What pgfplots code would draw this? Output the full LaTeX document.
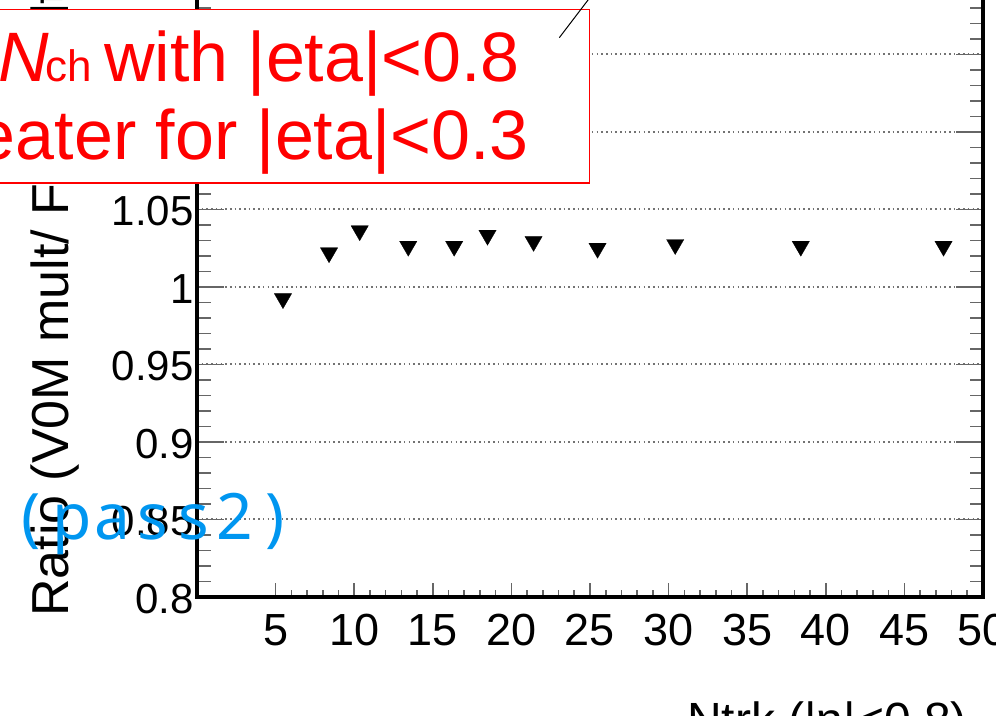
\documentclass[border=0pt]{standalone}
\usepackage{fontspec}
\setmainfont{Liberation Sans}
\newfontfamily\bluefont{Noto Sans}
\usepackage{pgfplots}
\pgfplotsset{compat=1.18}
\definecolor{rootblue}{RGB}{0,150,240}
\begin{document}
\begin{tikzpicture}
\path[use as bounding box] (0,0) rectangle (996bp,716bp);
\clip (0,0) rectangle (996bp,716bp);
% x ticks and labels (shorter tick length)
\begin{axis}[at={(197bp,119bp)}, anchor=south west, scale only axis,
  width=786bp, height=620bp, xmin=0, xmax=50, ymin=0.8, ymax=1.2,
  xtick={5,10,15,20,25,30,35,40,45,50}, minor x tick num=4,
  xticklabels={5,10,15,20,25,30,35,40,45,50},
  ytick=\empty, axis line style={draw=none},
  tick align=inside, major tick length=14bp, minor tick length=7bp,
  tick style={black!60, line width=1.6bp},
  xticklabel style={font=\fontsize{45bp}{50bp}\selectfont, anchor=base, yshift=-48bp}]
\addplot[draw=none] coordinates {(1,1)};
\end{axis}
% main axis
\begin{axis}[at={(197bp,119bp)}, anchor=south west, scale only axis,
  width=786bp, height=620bp, xmin=0, xmax=50, ymin=0.8, ymax=1.2,
  xtick=\empty,
  ytick={0.8,0.85,0.9,0.95,1,1.05,1.1,1.15,1.2},
  yticklabels={0.8,0.85,0.9,0.95,1,1.05,1.1,1.15,1.2},
  minor y tick num=4,
  ymajorgrids,
  major grid style={black!55, line width=2bp, dash pattern=on 1.6bp off 3.1bp},
  axis line style={black, line width=3.5bp},
  tick align=inside, major tick length=27bp, minor tick length=13.5bp,
  tick style={black!60, line width=1.6bp},
  yticklabel style={font=\fontsize{42bp}{48bp}\selectfont, anchor=east, inner sep=0pt, xshift=-3.3bp, yshift=-2bp}]
\addplot[only marks, mark=triangle*, mark size=10bp,
  mark options={rotate=180, fill=black, draw=black, line width=0.3bp}]
  coordinates {
  (5.47,0.9925) (8.40,1.0221) (10.35,1.0363) (13.44,1.0263) (16.36,1.0263)
  (18.48,1.0334) (21.41,1.0294) (25.48,1.0250) (30.42,1.0274) (38.41,1.0263)
  (47.49,1.0263)
  };
\end{axis}
% axis titles
\node[anchor=base west, rotate=90, inner sep=0pt, font=\fontsize{52bp}{60bp}\selectfont]
  at (68bp,99bp) {Ratio (V0M mult/ FMD mult)};
\node[anchor=base east, inner sep=0pt, font=\fontsize{48bp}{56bp}\selectfont]
  at (967bp,-20bp) {Ntrk (|η|<0.8)};
% blue annotation
\node[anchor=base west, inner sep=0pt, text=rootblue, font=\bluefont\fontsize{64bp}{70bp}\selectfont]
  at (10.6bp,176bp) {\makebox[40.7bp]{(}\makebox[40.7bp]{p}\makebox[40.7bp]{a}\makebox[40.7bp]{s}\makebox[40.7bp]{s}\makebox[40.7bp]{2}\makebox[40.7bp]{)}};
% red box
\draw[red, line width=1.3bp, fill=white] (-100bp,533bp) rectangle (589.3bp,706.7bp);
\node[anchor=base east, inner sep=0pt, text=red, font=\fontsize{70bp}{80bp}\selectfont]
  at (520bp,634.3bp) {{\itshape N}\kern-4bp{\fontsize{44bp}{50bp}\selectfont ch }with |eta|<0.8};
\node[anchor=base east, inner sep=0pt, text=red, font=\fontsize{70bp}{80bp}\selectfont]
  at (529bp,556.7bp) {Greater for |eta|<0.3};
\draw[black, line width=1bp] (559.3bp,678.3bp) -- (617bp,754bp);
\end{tikzpicture}
\end{document}
